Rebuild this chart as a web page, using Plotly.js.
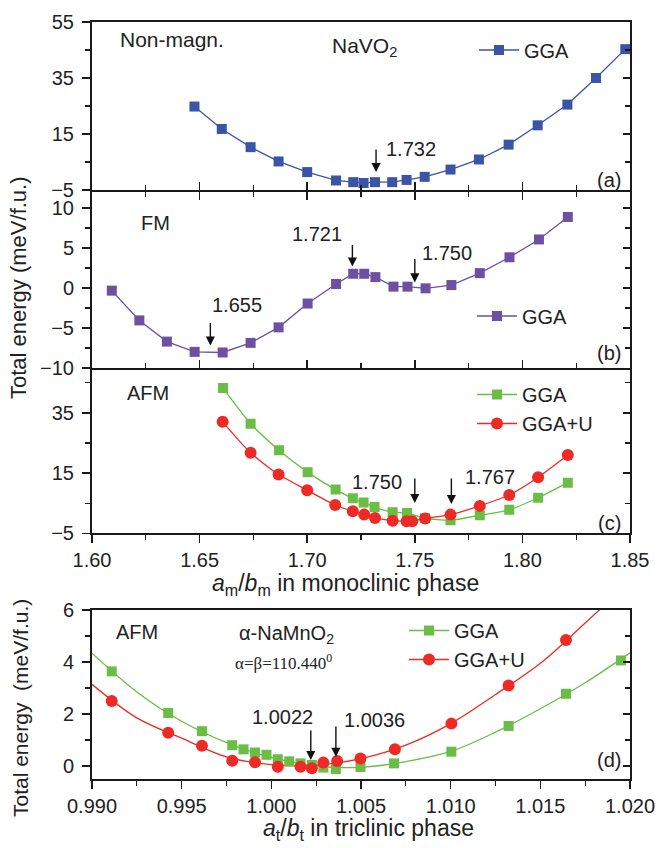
<!DOCTYPE html>
<html>
<head>
<meta charset="utf-8">
<script src="https://cdn.plot.ly/plotly-3.0.1.min.js"></script>
<style>html,body{margin:0;padding:0;background:#fff;}#chart{width:663px;height:848px;}</style>
</head>
<body>
<div id="chart"></div>
<script>
// ---------- DATA ----------
// (a) NaVO2, non-magnetic, GGA
const aX = [1.6476,1.6603,1.6737,1.6867,1.7000,1.7134,1.7214,1.7262,1.7315,1.7395,1.7462,1.7546,1.7666,1.7798,1.7936,1.8071,1.8209,1.8342,1.8478];
const aY = [24.8,16.8,10.3,5.2,1.4,-1.6,-2.2,-2.5,-2.2,-2.2,-1.4,-0.3,2.3,5.9,11.2,18.1,25.5,35.0,45.3];
// (b) FM, GGA
const bX = [1.6092,1.6220,1.6348,1.6477,1.6607,1.6737,1.6867,1.7002,1.7134,1.7214,1.7265,1.7317,1.7401,1.7466,1.7550,1.7670,1.7802,1.7940,1.8077,1.8211];
const bY = [-0.33,-4.05,-6.7,-7.98,-8.06,-6.86,-4.92,-1.94,0.5,1.78,1.78,1.36,0.17,0.17,-0.04,0.37,1.86,3.84,6.07,8.88];
// (c) AFM, GGA and GGA+U
const cX_GGA = [1.6609,1.6737,1.6869,1.7002,1.7132,1.7212,1.7262,1.7313,1.7397,1.7464,1.7548,1.7666,1.7802,1.7939,1.8073,1.8211];
const cY_GGA = [43.2,31.4,22.6,15.3,9.5,6.6,5.2,3.7,2.0,1.7,0.0,-0.7,1.0,2.8,6.8,11.8];
const cX_U = [1.6607,1.6737,1.6867,1.7000,1.7130,1.7212,1.7265,1.7315,1.7397,1.7462,1.7488,1.7548,1.7666,1.7802,1.7939,1.8073,1.8211];
const cY_U = [32.0,21.7,14.5,9.3,4.4,2.3,1.2,0.1,-0.8,-1.0,-1.0,-0.1,1.2,4.1,7.7,13.6,21.0];
// (d) alpha-NaMnO2, AFM, triclinic
const dX_GGA = [0.9911,0.99425,0.99613,0.99782,0.99845,0.99909,0.99973,1.00036,1.0010,1.00163,1.00226,1.0029,1.0036,1.00497,1.00684,1.01004,1.01323,1.01643,1.0195];
const dY_GGA = [3.64,2.04,1.34,0.80,0.64,0.52,0.43,0.26,0.18,0.10,0.04,-0.06,-0.12,-0.04,0.10,0.55,1.54,2.78,4.06];
const dX_U = [0.9911,0.99425,0.99613,0.99782,0.99909,1.00036,1.00163,1.00226,1.0029,1.00367,1.00497,1.00689,1.01004,1.01323,1.01643];
const dY_U = [2.50,1.28,0.78,0.20,0.14,-0.03,-0.03,-0.09,0.13,0.19,0.29,0.64,1.63,3.10,4.85];
// fitted curves in (d)
const dFitX = [0.990,0.9925,0.995,0.9975,1.000,1.0025,1.005,1.0075,1.010,1.0125,1.015,1.0175,1.020];
const dFitY_GGA = [4.34,2.85,1.72,0.90,0.33,0.00,-0.05,0.17,0.56,1.30,2.20,3.20,4.35];
const dFitY_U = [3.14,1.85,1.07,0.35,0.05,0.03,0.28,0.80,1.63,2.75,3.95,5.50,7.10];
// marked ratios (arrows)
const aMarks = [1.732], aMarkY = [1.4];
const bMarks = [1.655, 1.721, 1.750], bMarkY = [-7.2, 2.68, 0.7];
const cMarks = [1.750, 1.767], cMarkY = [5.05, 4.7];
const dMarks = [1.0022, 1.0036], dMarkY = [0.23, 0.35];
const xTicksMono = [1.60,1.65,1.70,1.75,1.80,1.85];
const xTicksTri = [0.990,0.995,1.000,1.005,1.010,1.015,1.020];

// ---------- STYLE ----------
const FONT = 'Liberation Sans, Arial, sans-serif';
const BLUE = '#3a55a6', PURPLE = '#6c51a2', GREEN = '#6abd45', RED = '#ed2a26';
const W = 663, H = 848, ML = 92, MR = 33, MT = 22, MB = 69;
const PW = W - ML - MR, PH = H - MT - MB;
const px = x => (x - ML) / PW;
const py = y => 1 - (y - MT) / PH;

const traces = [
  {x: aX, y: aY, xaxis: 'x', yaxis: 'y', mode: 'lines+markers', name: 'GGA', legend: 'legend',
   line: {color: BLUE, width: 1.3}, marker: {symbol: 'square', size: 10, color: BLUE}},
  {x: bX, y: bY, xaxis: 'x2', yaxis: 'y2', mode: 'lines+markers', name: 'GGA', legend: 'legend2',
   line: {color: PURPLE, width: 1.3}, marker: {symbol: 'square', size: 10, color: PURPLE}},
  {x: cX_GGA, y: cY_GGA, xaxis: 'x3', yaxis: 'y3', mode: 'lines+markers', name: 'GGA', legend: 'legend3',
   line: {color: GREEN, width: 1.3, shape: 'spline', smoothing: 0.6}, marker: {symbol: 'square', size: 10, color: GREEN}},
  {x: cX_U, y: cY_U, xaxis: 'x3', yaxis: 'y3', mode: 'lines+markers', name: 'GGA+U', legend: 'legend3',
   line: {color: RED, width: 1.3, shape: 'spline', smoothing: 0.6}, marker: {symbol: 'circle', size: 12, color: RED}},
  {x: dFitX, y: dFitY_GGA, xaxis: 'x4', yaxis: 'y4', mode: 'lines', showlegend: false,
   line: {color: GREEN, width: 1.3, shape: 'spline'}},
  {x: dFitX, y: dFitY_U, xaxis: 'x4', yaxis: 'y4', mode: 'lines', showlegend: false,
   line: {color: RED, width: 1.3, shape: 'spline'}},
  {x: dX_GGA, y: dY_GGA, xaxis: 'x4', yaxis: 'y4', mode: 'markers', showlegend: false,
   marker: {symbol: 'square', size: 10, color: GREEN}},
  {x: dX_U, y: dY_U, xaxis: 'x4', yaxis: 'y4', mode: 'markers', showlegend: false,
   marker: {symbol: 'circle', size: 12, color: RED}},
  // legend entries for (d): line + marker
  {x: [null], y: [null], xaxis: 'x4', yaxis: 'y4', mode: 'lines+markers', name: 'GGA', legend: 'legend4',
   line: {color: GREEN, width: 1.3}, marker: {symbol: 'square', size: 10, color: GREEN}},
  {x: [null], y: [null], xaxis: 'x4', yaxis: 'y4', mode: 'lines+markers', name: 'GGA+U', legend: 'legend4',
   line: {color: RED, width: 1.3}, marker: {symbol: 'circle', size: 12, color: RED}},
  // right-side (inside) tick axes
  {x: [], y: [], xaxis: 'x', yaxis: 'y5', showlegend: false, hoverinfo: 'skip'},
  {x: [], y: [], xaxis: 'x2', yaxis: 'y6', showlegend: false, hoverinfo: 'skip'},
  {x: [], y: [], xaxis: 'x3', yaxis: 'y7', showlegend: false, hoverinfo: 'skip'},
  {x: [], y: [], xaxis: 'x4', yaxis: 'y8', showlegend: false, hoverinfo: 'skip'}
];

const AX = '#1a1a1a';
function yax(domain, range, tick0, dtick, mdt, anchor) {
  return {domain, range, tick0, dtick, anchor, ticks: 'outside', ticklen: 8, tickwidth: 1.5, tickcolor: AX,
    minor: {tick0, dtick: mdt, ticks: 'outside', ticklen: 5, tickwidth: 1.3, tickcolor: AX},
    showline: true, linewidth: 2, linecolor: AX, mirror: true, showgrid: false, zeroline: false,
    ticklabelstandoff: 4, tickfont: {size: 20, color: '#222'}, fixedrange: true};
}
function yright(range, tick0, dtick, mdt, anchor, over) {
  return {range, tick0, dtick, anchor, overlaying: over, side: 'right', ticks: 'inside', ticklen: 7, tickwidth: 1.5, tickcolor: AX,
    minor: {tick0, dtick: mdt, ticks: 'inside', ticklen: 5, tickwidth: 1.3, tickcolor: AX},
    showticklabels: false, showline: false, showgrid: false, zeroline: false};
}
function xax(range, mdt, anchor, labels, tdir, mirror, fmt, vals) {
  return {domain: [0, 1], range, tickvals: vals, anchor, ticks: tdir, ticklen: 8, tickwidth: 1.5, tickcolor: AX,
    minor: {dtick: mdt, tick0: range[0], ticks: tdir, ticklen: 5, tickwidth: 1.3, tickcolor: AX},
    showticklabels: labels, tickformat: fmt, showline: true, linewidth: 2, linecolor: AX, mirror,
    showgrid: false, zeroline: false, tickfont: {size: 20, color: '#222'}, fixedrange: true};
}

// plot-area pixel bands (axis lines of neighbouring panels fall on the same 2px)
const dA = [py(190), 1], dB = [py(368), py(192)], dC = [py(533.3), py(370)], dD = [0, py(610)];

const layout = {
  width: W, height: H, margin: {l: ML, r: MR, t: MT, b: MB},
  paper_bgcolor: '#fff', plot_bgcolor: '#fff',
  font: {family: FONT, size: 20, color: '#222'},
  xaxis: xax([1.60, 1.85], 0.025, 'y', false, 'inside', true, '.2f', xTicksMono),
  xaxis2: xax([1.60, 1.85], 0.025, 'y2', false, 'inside', 'ticks', '.2f', xTicksMono),
  xaxis3: xax([1.60, 1.85], 0.025, 'y3', true, 'outside', true, '.2f', xTicksMono),
  xaxis4: xax([0.990, 1.020], 0.0025, 'y4', true, 'outside', true, '.3f', xTicksTri),
  yaxis: yax(dA, [-5, 55], -5, 20, 10, 'x'),
  yaxis2: yax(dB, [-10, 12], -10, 5, 2.5, 'x2'),
  yaxis3: yax(dC, [-5, 49.2], -5, 20, 10, 'x3'),
  yaxis4: yax(dD, [-0.5, 6], 0, 2, 1, 'x4'),
  yaxis5: yright([-5, 55], -5, 20, 10, 'x', 'y'),
  yaxis6: yright([-10, 12], -10, 5, 2.5, 'x2', 'y2'),
  yaxis7: yright([-5, 49.2], -5, 20, 10, 'x3', 'y3'),
  yaxis8: yright([-0.5, 6], 0, 2, 1, 'x4', 'y4'),
  legend: {x: px(474), y: py(50), xanchor: 'left', yanchor: 'middle', bgcolor: 'rgba(0,0,0,0)', font: {size: 20}, itemwidth: 40},
  legend2: {x: px(472), y: py(316), xanchor: 'left', yanchor: 'middle', bgcolor: 'rgba(0,0,0,0)', font: {size: 20}, itemwidth: 40},
  legend3: {x: px(472), y: py(409), xanchor: 'left', yanchor: 'middle', bgcolor: 'rgba(0,0,0,0)', font: {size: 20}, itemwidth: 40},
  legend4: {x: px(404), y: py(645), xanchor: 'left', yanchor: 'middle', bgcolor: 'rgba(0,0,0,0)', font: {size: 20}, itemwidth: 40},
  showlegend: true,
  annotations: []
};

function txt(t, x, y, opts) {
  layout.annotations.push(Object.assign({text: t, x: px(x), y: py(y), xref: 'paper', yref: 'paper',
    showarrow: false, xanchor: 'center', yanchor: 'middle', borderpad: 0, font: {size: 20, color: '#222'}}, opts || {}));
}
function arrows(xs, ys, lens, xr, yr) {
  xs.forEach((v, i) => layout.annotations.push({x: v, y: ys[i], xref: xr, yref: yr, text: '', showarrow: true,
    ax: 0, ay: -lens[i], arrowhead: 2, arrowsize: 1.3, arrowwidth: 1.4, arrowcolor: '#111'}));
}

// panel (a)
txt('Non-magn.', 172, 40, {font: {size: 21, color: '#222'}});
txt('NaVO<sub>2</sub>', 364, 47, {font: {size: 21, color: '#222'}});
txt('1.732', 411, 149);
txt('(a)', 609, 180);
arrows(aMarks, aMarkY, [24], 'x', 'y');
// panel (b)
txt('FM', 155, 223);
txt('1.721', 317, 234);
txt('1.750', 447, 253);
txt('1.655', 237, 305);
txt('(b)', 609, 353);
arrows(bMarks, bMarkY, [24, 23, 25], 'x2', 'y2');
// panel (c)
txt('AFM', 148, 393);
txt('1.750', 377, 482);
txt('1.767', 490, 477);
txt('(c)', 609, 523);
arrows(cMarks, cMarkY, [26, 27], 'x3', 'y3');
// panel (d)
txt('AFM', 137, 632);
txt('α-NaMnO<sub>2</sub>', 286, 634);
txt('α=β=110.440<sup>0</sup>', 283, 662, {font: {family: 'Liberation Serif, Times New Roman, serif', size: 17, color: '#222'}});
txt('1.0022', 282, 717);
txt('1.0036', 374, 720);
txt('(d)', 609, 760);
arrows(dMarks, dMarkY, [31, 32], 'x4', 'y4');
// axis titles
txt('<i>a</i><sub>m</sub>/<i>b</i><sub>m</sub> in monoclinic phase', 345, 584, {font: {size: 23, color: '#222'}});
txt('<i>a</i><sub>t</sub>/<i>b</i><sub>t</sub> in triclinic phase', 368, 829, {font: {size: 23, color: '#222'}});
txt('Total energy (meV/f.u.)', 18, 288, {textangle: -90, font: {size: 22, color: '#222'}});
txt('Total energy  (meV/f.u.)', 20, 708, {textangle: -90, font: {size: 21, color: '#222'}});

Plotly.newPlot('chart', traces, layout, {staticPlot: true, displayModeBar: false});
</script>
</body>
</html>
